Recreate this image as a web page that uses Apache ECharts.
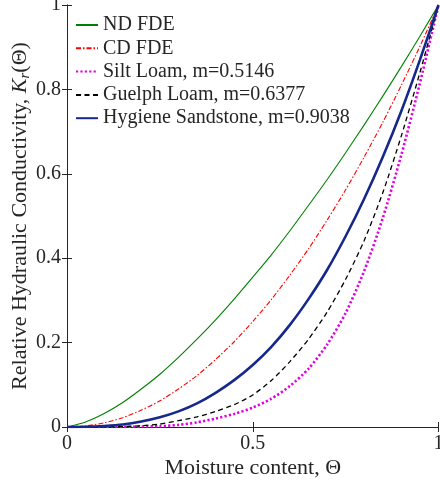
<!DOCTYPE html>
<html>
<head>
<meta charset="utf-8">
<script src="https://cdn.jsdelivr.net/npm/echarts@6/dist/echarts.min.js"></script>
<style>
  html, body { margin: 0; padding: 0; background: #fff; }
  #chart { width: 440px; height: 484px; }
</style>
</head>
<body>
<div id="chart"></div>
<script>
// Moisture content samples (normalised, 0..1)
const theta = [0, 0.05, 0.1, 0.15, 0.2, 0.25, 0.3, 0.35, 0.4, 0.45, 0.5,
               0.55, 0.6, 0.65, 0.7, 0.75, 0.8, 0.85, 0.9, 0.95, 1];

// Relative hydraulic conductivity for each model
const ndFde    = [0, 0.012, 0.032, 0.058, 0.09, 0.125, 0.165, 0.208, 0.254, 0.303, 0.355,
                  0.408, 0.465, 0.525, 0.586, 0.65, 0.716, 0.784, 0.854, 0.926, 1];
const cdFde    = [0, 0.0025, 0.01, 0.022, 0.04, 0.062, 0.09, 0.122, 0.16, 0.202, 0.25,
                  0.302, 0.36, 0.422, 0.49, 0.562, 0.64, 0.722, 0.81, 0.902, 1];
const siltLoam = [0, 0, 0, 0.0003, 0.001, 0.002, 0.005, 0.011, 0.02, 0.031, 0.046,
                  0.067, 0.097, 0.138, 0.195, 0.27, 0.37, 0.495, 0.645, 0.815, 1];
const guelph   = [0, 0, 0.0003, 0.001, 0.003, 0.007, 0.015, 0.024, 0.037, 0.053, 0.076,
                  0.11, 0.155, 0.208, 0.272, 0.35, 0.442, 0.555, 0.69, 0.84, 1];
const hygiene  = [0, 0.0005, 0.0025, 0.006, 0.013, 0.023, 0.037, 0.056, 0.081, 0.111, 0.147,
                  0.19, 0.242, 0.303, 0.372, 0.452, 0.541, 0.64, 0.749, 0.87, 1];

const seriesNames = ['ND FDE', 'CD FDE', 'Silt Loam, m=0.5146',
                     'Guelph Loam, m=0.6377', 'Hygiene Sandstone, m=0.9038'];

const xTicks = [0, 0.5, 1];
const yTicks = [0, 0.2, 0.4, 0.6, 0.8, 1];

const ink = '#262626';
const serif = 'Liberation Serif';

function pairs(ys) { return theta.map((t, i) => [t, ys[i]]); }

function curve(name, ys, color, width, type) {
  return {
    name: name,
    type: 'line',
    data: pairs(ys),
    symbol: 'none',
    showSymbol: false,
    smooth: 0.25,
    lineStyle: { color: color, width: width, type: type, cap: 'butt' },
    itemStyle: { color: color },
    xAxisIndex: 0,
    yAxisIndex: 0,
    z: 3
  };
}

function fmt(v) { return String(Math.round(v * 10) / 10); }

const chart = echarts.init(document.getElementById('chart'), null, { renderer: 'canvas' });

const frameAxis = {
  axisLine: { show: true, lineStyle: { color: ink, width: 1 } },
  axisTick: { show: true, inside: true, length: 5, lineStyle: { color: ink, width: 1 } },
  splitLine: { show: false }
};

chart.setOption({
  animation: false,
  backgroundColor: '#fff',
  textStyle: { fontFamily: serif },
  grid: { left: 67, right: 1.5, top: 5, bottom: 57, containLabel: false, outerBoundsMode: 'none' },
  legend: {
    orient: 'vertical',
    left: 75,
    top: 15,
    padding: 0,
    itemWidth: 22,
    itemHeight: 10,
    itemGap: 3.3,
    data: seriesNames,
    itemStyle: { opacity: 0 },
    textStyle: { fontFamily: serif, fontSize: 20, color: ink, lineHeight: 20 }
  },
  xAxis: [
    Object.assign({}, frameAxis, {
      type: 'value', min: 0, max: 1, interval: 0.5, position: 'bottom',
      name: 'Moisture content, Θ', nameLocation: 'middle', nameGap: 30,
      nameMoveOverlap: false,
      nameTextStyle: { fontFamily: serif, fontSize: 22, color: ink },
      axisLabel: { show: true, margin: 7, fontFamily: serif, fontSize: 20, color: ink, formatter: fmt }
    }),
    Object.assign({}, frameAxis, {
      type: 'value', min: 0, max: 1, interval: 0.5, position: 'top',
      axisLabel: { show: false }
    })
  ],
  yAxis: [
    Object.assign({}, frameAxis, {
      type: 'value', min: 0, max: 1, interval: 0.2, position: 'left',
      name: 'Relative Hydraulic Conductivity, {k|K}{s|r}(Θ)',
      nameLocation: 'middle', nameGap: 34, nameRotate: 90,
      nameMoveOverlap: false,
      nameTextStyle: {
        fontFamily: serif, fontSize: 22, color: ink, lineHeight: 26,
        rich: {
          k: { fontFamily: serif, fontSize: 22, fontStyle: 'italic', color: ink, lineHeight: 26 },
          s: { fontFamily: serif, fontSize: 15, fontStyle: 'italic', color: ink, lineHeight: 26, verticalAlign: 'bottom' }
        }
      },
      axisLabel: { show: true, margin: 6, fontFamily: serif, fontSize: 20, color: ink, formatter: fmt }
    }),
    Object.assign({}, frameAxis, {
      type: 'value', min: 0, max: 1, interval: 0.2, position: 'right',
      axisLabel: { show: false }
    })
  ],
  series: [
    curve(seriesNames[0], ndFde, '#008000', 1.1, 'solid'),
    curve(seriesNames[1], cdFde, '#ff0000', 1.1, [5, 2, 1.5, 2]),
    curve(seriesNames[2], siltLoam, '#e000e0', 2.6, [2.2, 2.2]),
    curve(seriesNames[3], guelph, '#000000', 1.3, [5, 3.5]),
    curve(seriesNames[4], hygiene, '#16288c', 2.6, 'solid')
  ]
});
</script>
</body>
</html>
